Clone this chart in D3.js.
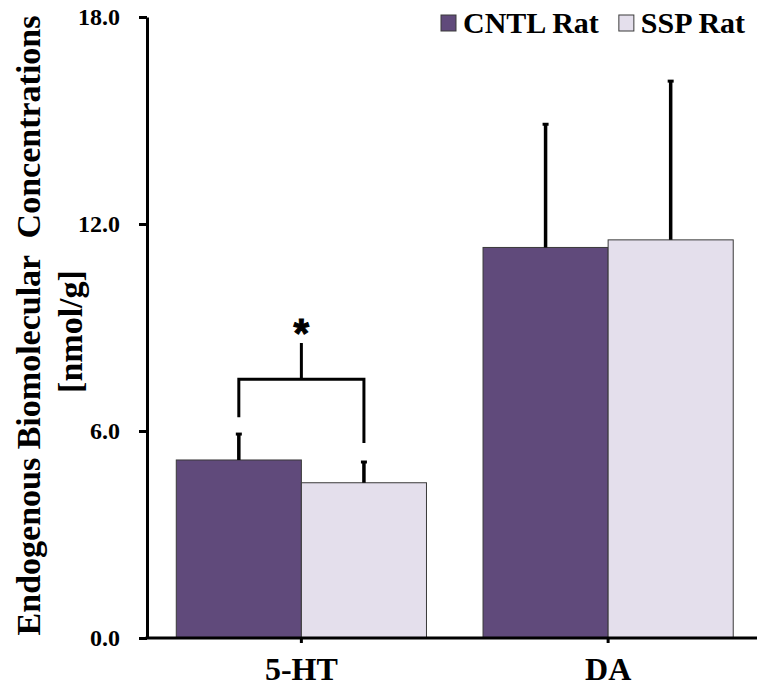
<!DOCTYPE html>
<html>
<head>
<meta charset="utf-8">
<script src="https://cdn.jsdelivr.net/npm/d3@7"></script>
<style>
  body { margin: 0; background: #fff; }
  svg text { font-family: "Liberation Serif", "Times New Roman", serif; font-weight: bold; }
</style>
</head>
<body>
<div id="chart"></div>
<script>
// data
var groups = ["5-HT", "DA"];
var seriesNames = ["CNTL Rat", "SSP Rat"];
var cntlMeans = [5.16, 11.32];
var sspMeans = [4.50, 11.54];
var cntlErr = [0.78, 3.60];
var sspErr = [0.63, 4.63];
var yTicks = [0, 6, 12, 18];
// significance bracket over 5-HT (y values in data units)
var sigGroup = "5-HT";
var sigLegBottoms = [6.40, 5.65];
var sigBarY = 7.50;
var sigStemTop = 8.55;
var sigLabel = "*";

var colors = ["#604a7b", "#e4dfec"];

var width = 757, height = 686;
var serif = "'Liberation Serif', 'Times New Roman', serif";

var svg = d3.select("#chart").append("svg")
    .attr("width", width)
    .attr("height", height);

var rows = [];
groups.forEach(function (g, i) {
    rows.push({ group: g, series: seriesNames[0], value: cntlMeans[i], err: cntlErr[i] });
    rows.push({ group: g, series: seriesNames[1], value: sspMeans[i], err: sspErr[i] });
});

var x0 = d3.scaleBand()
    .domain(groups)
    .range([148, 761.5]);

var x1 = d3.scaleBand()
    .domain(seriesNames)
    .range([0, x0.bandwidth()])
    .paddingOuter(0.226);

var y = d3.scaleLinear()
    .domain([0, 18])
    .range([638, 17]);

var color = d3.scaleOrdinal().domain(seriesNames).range(colors);

// bars
svg.append("g").selectAll("rect")
    .data(rows)
    .enter().append("rect")
    .attr("x", d => x0(d.group) + x1(d.series))
    .attr("y", d => y(d.value))
    .attr("width", x1.bandwidth())
    .attr("height", d => y(0) - y(d.value))
    .attr("fill", d => color(d.series))
    .attr("stroke", "#3a3a3a")
    .attr("stroke-width", 1);

// error bars (upper only)
var errG = svg.append("g");
var cx = d => x0(d.group) + x1(d.series) + x1.bandwidth() / 2;
errG.selectAll("line.err")
    .data(rows)
    .enter().append("line")
    .attr("class", "err")
    .attr("x1", cx).attr("x2", cx)
    .attr("y1", d => y(d.value))
    .attr("y2", d => y(d.value + d.err))
    .attr("stroke", "#000")
    .attr("stroke-width", 3.5);
errG.selectAll("line.cap")
    .data(rows)
    .enter().append("line")
    .attr("class", "cap")
    .attr("x1", d => cx(d) - 3).attr("x2", d => cx(d) + 3)
    .attr("y1", d => y(d.value + d.err) + 1)
    .attr("y2", d => y(d.value + d.err) + 1)
    .attr("stroke", "#000")
    .attr("stroke-width", 3);

// y axis
var yAxis = d3.axisLeft(y)
    .tickValues(yTicks)
    .tickFormat(d3.format(".1f"))
    .tickSize(8)
    .tickSizeOuter(0)
    .tickPadding(19);

var yg = svg.append("g")
    .attr("transform", "translate(147,0)")
    .call(yAxis)
    .attr("font-family", serif);
yg.select(".domain").attr("stroke", "#000").attr("stroke-width", 3);
yg.selectAll(".tick line").attr("stroke", "#000").attr("stroke-width", 3);
yg.selectAll(".tick text")
    .attr("font-family", serif)
    .attr("font-size", "24px")
    .attr("font-weight", "bold")
    .attr("fill", "#000");

// x axis
var xAxis = d3.axisBottom(x0)
    .tickSize(5)
    .tickSizeOuter(0)
    .tickFormat("");
var xg = svg.append("g")
    .attr("transform", "translate(0,638)")
    .call(xAxis);
xg.select(".domain").attr("stroke", "#000").attr("stroke-width", 3)
    .attr("d", "M145.5,0H" + width);
xg.selectAll(".tick line").attr("stroke", "#000").attr("stroke-width", 3);

svg.append("g").selectAll("text")
    .data(groups)
    .enter().append("text")
    .attr("x", d => x0(d) + x0.bandwidth() / 2)
    .attr("y", 680)
    .attr("text-anchor", "middle")
    .attr("font-family", serif)
    .attr("font-size", "32px")
    .text(d => d);

// y axis title
svg.append("text")
    .attr("transform", "translate(40," + (y(9) - 2) + ") rotate(-90)")
    .attr("text-anchor", "middle")
    .attr("font-family", serif)
    .attr("font-size", "34px")
    .style("white-space", "pre")
    .text("Endogenous Biomolecular  Concentrations");
svg.append("text")
    .attr("transform", "translate(82," + (y(9) + 4) + ") rotate(-90)")
    .attr("text-anchor", "middle")
    .attr("font-family", serif)
    .attr("font-size", "34px")
    .text("[nmol/g]");

// significance bracket
var sx = [cx({ group: sigGroup, series: seriesNames[0] }), cx({ group: sigGroup, series: seriesNames[1] })];
var mid = (sx[0] + sx[1]) / 2;
var sig = svg.append("g")
    .attr("fill", "none")
    .attr("stroke", "#000")
    .attr("stroke-width", 3);
sig.append("path")
    .attr("d", "M" + sx[0] + "," + y(sigLegBottoms[0]) +
        "V" + y(sigBarY) + "H" + sx[1] + "V" + y(sigLegBottoms[1]));
sig.append("line")
    .attr("x1", mid).attr("x2", mid)
    .attr("y1", y(sigBarY)).attr("y2", y(sigStemTop));
svg.append("text")
    .attr("x", mid)
    .attr("y", y(sigStemTop) + 4)
    .attr("text-anchor", "middle")
    .style("font-family", "'Liberation Sans', Arial, sans-serif")
    .attr("font-size", "40px")
    .attr("stroke", "#000")
    .attr("stroke-width", 1)
    .text(sigLabel);

// legend
var legend = svg.append("g").attr("transform", "translate(441,0)");
var lx = 0;
seriesNames.forEach(function (s, i) {
    legend.append("rect")
        .attr("x", lx).attr("y", 15)
        .attr("width", 15).attr("height", 16)
        .attr("fill", color(s))
        .attr("stroke", "#3a3a3a")
        .attr("stroke-width", 1);
    var t = legend.append("text")
        .attr("x", lx + 22)
        .attr("y", 33)
        .attr("font-family", serif)
        .attr("font-size", "30px")
        .text(s);
    lx += 22 + t.node().getComputedTextLength() + 20;
});
</script>
</body>
</html>
